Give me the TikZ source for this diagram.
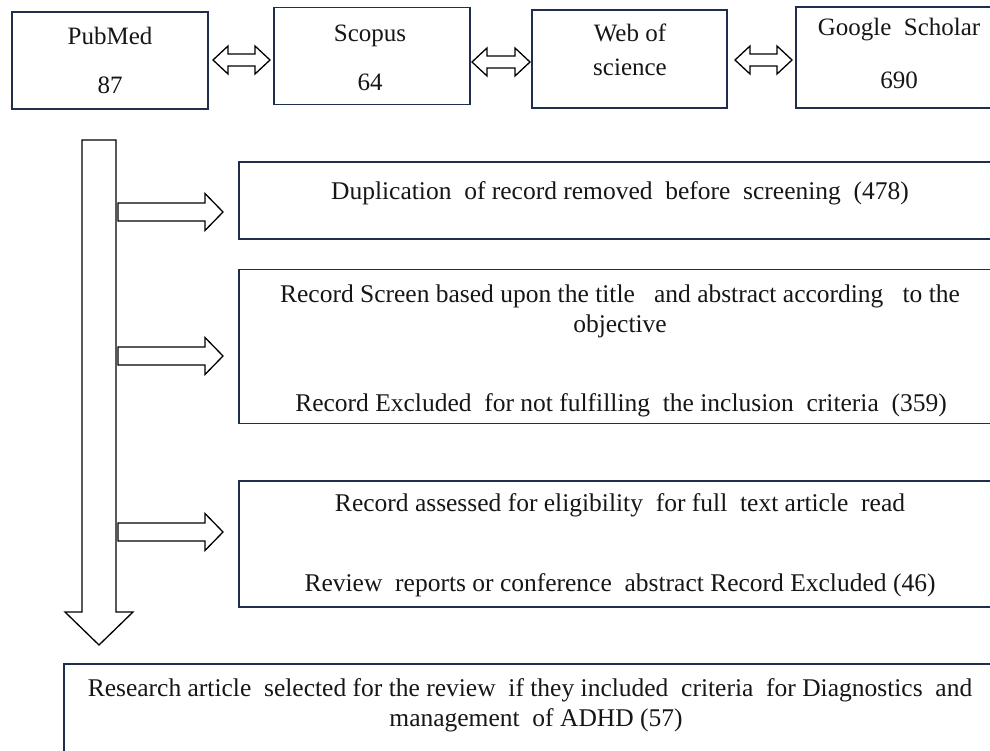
\documentclass[tikz,border=0pt]{standalone}
\usepackage{fontspec}
\setmainfont{Liberation Serif}
\definecolor{boxnavy}{HTML}{1F2E4D}
\definecolor{ink}{HTML}{161616}
\begin{document}
\begin{tikzpicture}[x=1pt,y=-1pt,
  framebox/.style={draw=boxnavy, line width=1.7pt, rectangle, inner sep=0pt},
  txt/.style={text=ink, inner sep=0pt, anchor=base, font=\fontsize{25}{30}\selectfont},
  txtsm/.style={text=ink, inner sep=0pt, anchor=base, font=\fontsize{25.5}{30}\selectfont},
  blockarrow/.style={draw=black, line width=1.3pt, fill=white, line join=miter}]
\useasboundingbox (0,0) rectangle (990,751);
\clip (0,0) rectangle (990,751);
\fill[white] (0,0) rectangle (990,751);

% source databases
\node[framebox, minimum width=196, minimum height=97] (pubmed) at (110,60.5) {};
\node[framebox, minimum width=196, minimum height=97] (scopus) at (372,56) {};
\node[framebox, minimum width=195, minimum height=98] (wos) at (629.5,59) {};
\node[framebox, minimum width=206, minimum height=101] (gs) at (899,57.5) {};

\node[txt] (t1) at (110,45) {PubMed};
\node[txt] (t2) at (110,94) {87};
\node[txt] (t3) at (370,42) {Scopus};
\node[txt] (t4) at (370,91) {64};
\node[txt] (t5) at (630,42) {Web of};
\node[txt] (t6) at (630,76) {science};
\node[txt] (t7) at (899,36) {Google\ \ Scholar};
\node[txt] (t8) at (899,89) {690};

% double block arrows between the databases
\foreach \a/\b/\cy in {213/270/60, 472/530/62, 735/792/60}{
  \draw[blockarrow] (\a,\cy) -- (\a+15,\cy-14) -- (\a+15,\cy-6) -- (\b-15,\cy-6)
    -- (\b-15,\cy-14) -- (\b,\cy) -- (\b-15,\cy+14) -- (\b-15,\cy+6)
    -- (\a+15,\cy+6) -- (\a+15,\cy+14) -- cycle;
}

% main downward flow arrow
\draw[blockarrow] (82,140) -- (116,140) -- (116,612) -- (133,612) -- (99,645)
  -- (65,612) -- (82,612) -- cycle;

% side arrows to the screening stages
\foreach \cy in {212, 356, 532}{
  \draw[blockarrow] (118,\cy-9) -- (205,\cy-9) -- (205,\cy-18.5) -- (223,\cy)
    -- (205,\cy+18.5) -- (205,\cy+9) -- (118,\cy+9) -- cycle;
}

% stage boxes
\node[framebox, minimum width=762, minimum height=77] (dup) at (620,200.5) {};
\node[framebox, minimum width=762, minimum height=154] (screen) at (620,346.5) {};
\node[framebox, minimum width=762, minimum height=126] (elig) at (620,544) {};
\node[framebox, minimum width=940, minimum height=120, anchor=north west] (final) at (63,663) {};

\node[txtsm] (d1) at (620,200) {Duplication\ \ of record removed\ \ before\ \ screening\ \ (478)};
\node[txtsm] (s1) at (620,302) {Record Screen based upon the title\ \ \ and abstract according\ \ \ to the};
\node[txtsm] (s2) at (620,332) {objective};
\node[txtsm] (s3) at (621,411) {Record Excluded\ \ for not fulfilling\ \ the inclusion\ \ criteria\ \ (359)};
\node[txtsm] (e1) at (620,511) {Record assessed for eligibility\ \ for full\ \ text article\ \ read};
\node[txtsm] (e2) at (620,591) {Review\ \ reports or conference\ \ abstract Record Excluded (46)};
\node[txtsm] (f1) at (530,696) {Research article\ \ selected for the review\ \ if they included\ \ criteria\ \ for Diagnostics\ \ and};
\node[txtsm] (f2) at (536,726) {management\ \ of ADHD (57)};
\end{tikzpicture}
\end{document}
